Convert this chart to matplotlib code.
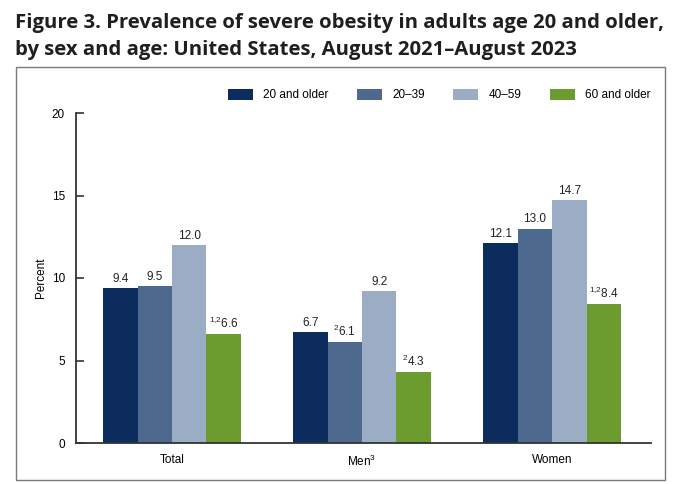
import matplotlib
matplotlib.use("Agg")
import matplotlib.pyplot as plt
from matplotlib.patches import Rectangle
import numpy as np

plt.rcParams['font.family'] = ['Liberation Sans', 'DejaVu Sans']
plt.rcParams['mathtext.fontset'] = 'custom'
plt.rcParams['mathtext.rm'] = 'Liberation Sans'
plt.rcParams['mathtext.it'] = 'Liberation Sans'
plt.rcParams['mathtext.bf'] = 'Liberation Sans:bold'

title_lines = ["Figure 3. Prevalence of severe obesity in adults age 20 and older,",
               "by sex and age: United States, August 2021\u2013August 2023"]
categories = ["Total", "Men$^{3}$", "Women"]
series = ["20 and older", "20\u201339", "40\u201359", "60 and older"]
values = [
    [9.4, 6.7, 12.1],
    [9.5, 6.1, 13.0],
    [12.0, 9.2, 14.7],
    [6.6, 4.3, 8.4],
]
# footnote markers per series per category
notes = [
    ["", "", ""],
    ["", "2", ""],
    ["", "", ""],
    ["1{,}2", "2", "1{,}2"],
]
colors = ["#0b2c5c", "#4d6a8e", "#9badc5", "#6c9c30"]
yticks = [0, 5, 10, 15, 20]

fig = plt.figure(figsize=(6.8, 4.84), dpi=100)

# frame
fig.patches.append(Rectangle((16/680, 4/484), (665-16)/680, (417-4)/484,
                             transform=fig.transFigure, fill=False,
                             edgecolor="#7a7a7a", linewidth=1.0))

for k, line in enumerate(title_lines):
    fig.text(15/680, 1 - (28 + 27*k)/484, line, ha="left", va="baseline",
             fontsize=14.6, fontweight="bold", family=["Open Sans", "DejaVu Sans"],
             color="#1f1f1f")

ax = fig.add_axes([76/680, 41/484, (651-76)/680, (443-113)/484])
x = np.arange(len(categories))
w = 0.181
for i, (s, vals) in enumerate(zip(series, values)):
    pos = x + (i - 1.5) * w
    ax.bar(pos, vals, width=w, color=colors[i], label=s, linewidth=0)
    for p, v, n in zip(pos, vals, notes[i]):
        lab = f"{v:.1f}" if not n else f"$^{{{n}}}${v:.1f}"
        ax.text(p, v + 0.2, lab, ha="center", va="bottom", fontsize=8.5,
                color="#222222")

ax.set_xlim(-0.505, 2.52)
ax.set_ylim(0, 20)
ax.set_yticks(yticks)
ax.set_xticks(x)
ax.set_xticklabels(categories, fontsize=8.5)
ax.tick_params(axis="x", length=0, pad=8)
ax.tick_params(axis="y", direction="in", length=6, width=1.2, pad=8,
               labelsize=8.5, color="#333333")
for sp in ["top", "right"]:
    ax.spines[sp].set_visible(False)
for sp in ["left", "bottom"]:
    ax.spines[sp].set_color("#333333")
    ax.spines[sp].set_linewidth(1.3)
ax.set_ylabel("Percent", fontsize=8.5, labelpad=3)

leg = ax.legend(ncol=4, loc="lower right", bbox_to_anchor=(1.0, 1.035),
                frameon=False, fontsize=8.5, handlelength=2.1,
                handleheight=1.0, handletextpad=0.9, columnspacing=2.4,
                borderaxespad=0, borderpad=0)

fig.savefig("out.png", dpi=100)
